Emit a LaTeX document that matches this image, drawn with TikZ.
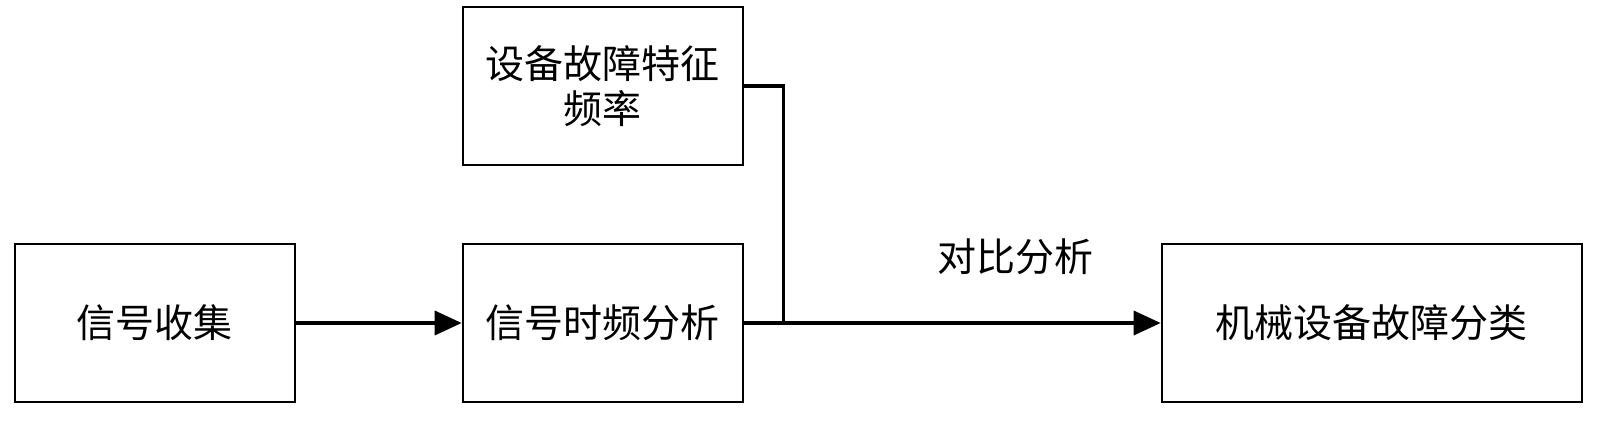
\documentclass[tikz,border=0pt]{standalone}
\usepackage{fontspec}
\setmainfont{Noto Sans CJK SC}
\usetikzlibrary{arrows.meta}
\begin{document}
\begin{tikzpicture}[x=1pt,y=1pt,
  blk/.style={draw=black, line width=2pt, minimum height=158pt, inner sep=0pt, align=center, font=\fontsize{39}{45}\selectfont},
  conn/.style={line width=3.5pt},
  arr/.style={conn, -{Triangle[length=27pt,width=24pt]}},
  lbl/.style={font=\fontsize{39}{45}\selectfont}]
\useasboundingbox (0,0) rectangle (1600,426);
\node[blk, minimum width=280pt] (collect) at (154.8,103) {信号收集};
\node[blk, minimum width=280pt] (feature) at (602.7,340) {设备故障特征\\频率};
\node[blk, minimum width=280pt] (tf) at (602.7,103) {信号时频分析};
\node[blk, minimum width=420pt] (cls) at (1371.7,103) {机械设备故障分类};
\coordinate (junc) at (783.3,103);
\draw[arr] (collect.east) -- (tf.west);
\draw[arr] (tf.east) -- (cls.west);
\draw[conn] (feature.east) -| (junc);
\node[lbl] (cmp) at (1015,169) {对比分析};
\end{tikzpicture}
\end{document}
